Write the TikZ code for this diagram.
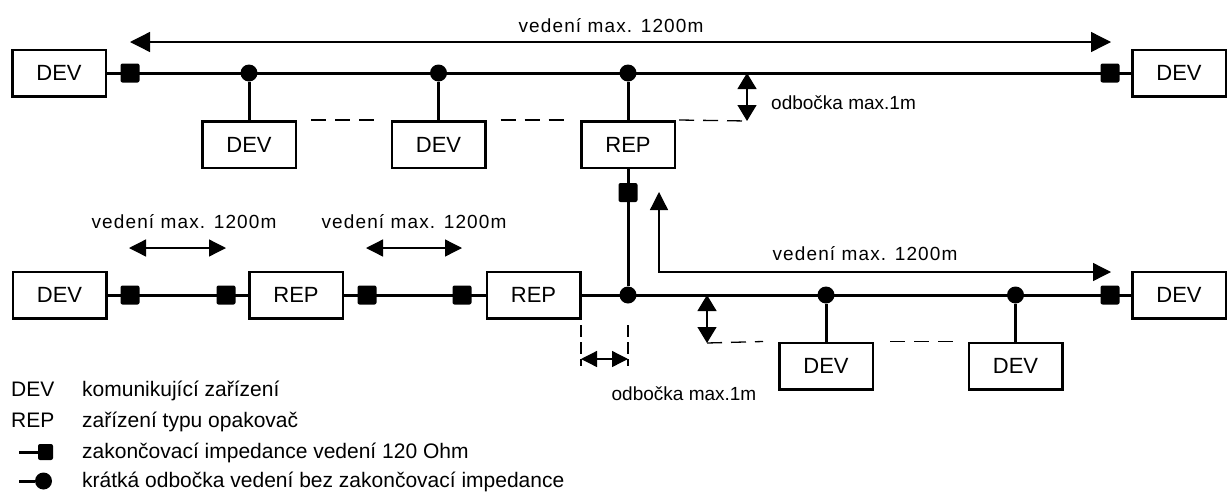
\documentclass[tikz,border=0pt]{standalone}
\usepackage{fontspec}
\setmainfont{Liberation Sans}
\newfontfamily\spacedfont[LetterSpace=6]{Liberation Sans}
\usetikzlibrary{arrows.meta}

\begin{document}
\begin{tikzpicture}[
  x=1pt, y=-1pt,
  box/.style={rectangle, draw=black, line width=2.5pt, minimum width=93.5pt,
              minimum height=46.5pt, inner sep=0pt, font=\fontsize{22}{26}\selectfont},
  term/.style={rectangle, rounded corners=2pt, fill=black, minimum width=19pt,
               minimum height=19pt, inner sep=0pt},
  dot/.style={circle, fill=black, minimum size=17pt, inner sep=0pt},
  bus/.style={line width=3pt},
  guide/.style={line width=1.3pt, dash pattern=on 15pt off 9pt},
  vguide/.style={line width=1.3pt, dash pattern=on 12pt off 5pt},
  span/.style={{Triangle[length=#1,width=#1]}-{Triangle[length=#1,width=#1]}, line width=1.3pt},
  stubspan/.style={{Triangle[length=16pt,width=19pt]}-{Triangle[length=16pt,width=19pt]}, line width=1.3pt},
  dimtext/.style={font=\spacedfont\fontsize{19}{23}\selectfont, anchor=base, inner sep=0pt},
  stubtext/.style={font=\fontsize{19}{23}\selectfont, inner sep=0pt},
  legtext/.style={font=\fontsize{21}{25}\selectfont, anchor=base west, inner sep=0pt}
]
\useasboundingbox (0,0) rectangle (1228,493);

% upper bus
\node[box] (devTL) at (59,73) {DEV};
\node[box] (devTR) at (1179,73) {DEV};
\node[term] (termTL) at (130,73) {};
\node[term] (termTR) at (1110,73) {};
\node[dot] (tapT1) at (249,73) {};
\node[dot] (tapT2) at (438.5,73) {};
\node[dot] (tapT3) at (628,73) {};
\node[box] (devT1) at (249,144.5) {DEV};
\node[box] (devT2) at (438.5,144.5) {DEV};
\node[box] (repT) at (628,144.5) {REP};
\node[term] (termV) at (628,192.5) {};
\draw[bus] (devTL) -- (devTR);
\draw[bus] (tapT1) -- (devT1);
\draw[bus] (tapT2) -- (devT2);
\draw[bus] (tapT3) -- (repT);
\draw[bus] (repT) -- (termV);

% lower bus
\node[box] (devBL) at (59.5,295) {DEV};
\node[box] (repB1) at (296,295) {REP};
\node[box] (repB2) at (533.5,295) {REP};
\node[box] (devBR) at (1179,295) {DEV};
\node[term] (termB1) at (130,295) {};
\node[term] (termB2) at (226,295) {};
\node[term] (termB3) at (367,295) {};
\node[term] (termB4) at (462,295) {};
\node[term] (termB5) at (1110,295) {};
\node[dot] (tapB0) at (628,295) {};
\node[dot] (tapB1) at (826,295) {};
\node[dot] (tapB2) at (1015.5,295) {};
\node[box] (devB1) at (826,366) {DEV};
\node[box] (devB2) at (1015.5,366) {DEV};
\draw[bus] (devBL) -- (repB1);
\draw[bus] (repB1) -- (repB2);
\draw[bus] (repB2) -- (devBR);
\draw[bus] (termV) -- (tapB0);
\draw[bus] (tapB1) -- (devB1);
\draw[bus] (tapB2) -- (devB2);

% dimensions
\coordinate (spanTa) at (130,42);
\coordinate (spanTb) at (1111,42);
\draw[span=20pt] (spanTa) -- (spanTb);
\node[dimtext] (lenT) at (611,32) {vedení max. 1200m};

\coordinate (stubTa) at (747,73);
\coordinate (stubTb) at (747,121);
\draw[stubspan] (stubTa) -- (stubTb);
\node[stubtext, anchor=base west] (stubT) at (771,109) {odbočka max.1m};
\draw[guide] ([xshift=14pt]devT1.north east) -- ([xshift=-16pt]devT2.north west);
\draw[guide] ([xshift=14pt]devT2.north east) -- ([xshift=-15pt]repT.north west);
\draw[guide] ([xshift=3pt]repT.north east) -- (stubTb);

\coordinate (cornerUp) at (659,192);
\coordinate (cornerRight) at (1111,272);
\draw[span=18pt] (cornerUp) |- (cornerRight);
\node[dimtext] (lenR) at (865,260) {vedení max. 1200m};

\coordinate (spanB1a) at (129,248);
\coordinate (spanB1b) at (226,248);
\draw[span=17pt] (spanB1a) -- (spanB1b);
\node[dimtext] (lenB1) at (184,228) {vedení max. 1200m};
\coordinate (spanB2a) at (366,248);
\coordinate (spanB2b) at (462,248);
\draw[span=17pt] (spanB2a) -- (spanB2b);
\node[dimtext] (lenB2) at (414,228) {vedení max. 1200m};

\coordinate (gapA1) at (581,325);
\coordinate (gapA2) at (581,366);
\coordinate (gapB1) at (628,325);
\coordinate (gapB2) at (628,366);
\draw[vguide] (gapA1) -- (gapA2);
\draw[vguide] (gapB1) -- (gapB2);
\coordinate (gapSa) at (581,359);
\coordinate (gapSb) at (628,359);
\draw[span=16pt] (gapSa) -- (gapSb);
\node[stubtext, anchor=base] (stubB) at (684,400) {odbočka max.1m};

\coordinate (stubBa) at (707,295);
\coordinate (stubBb) at (707,343);
\draw[stubspan] (stubBa) -- (stubBb);
\draw[guide] (stubBb) -- ([xshift=-15pt]devB1.north west);
\draw[guide] ([xshift=16pt]devB1.north east) -- ([xshift=-15pt]devB2.north west);

% legend
\node[legtext] (keyDev) at (11,396) {DEV};
\node[legtext] (keyDevTxt) at (82,396) {komunikující zařízení};
\node[legtext] (keyRep) at (11,427) {REP};
\node[legtext] (keyRepTxt) at (82,427) {zařízení typu opakovač};
\node[term, minimum width=15pt, minimum height=16pt] (keyTerm) at (45.5,452) {};
\coordinate (keyTermEnd) at (19,452);
\draw[bus] (keyTermEnd) -- (keyTerm);
\node[legtext] (keyTermTxt) at (82,458) {zakončovací impedance vedení 120 Ohm};
\node[dot] (keyTap) at (43.5,481) {};
\coordinate (keyTapEnd) at (19,481);
\draw[bus] (keyTapEnd) -- (keyTap);
\node[legtext] (keyTapTxt) at (82,487) {krátká odbočka vedení bez zakončovací impedance};
\end{tikzpicture}
\end{document}
